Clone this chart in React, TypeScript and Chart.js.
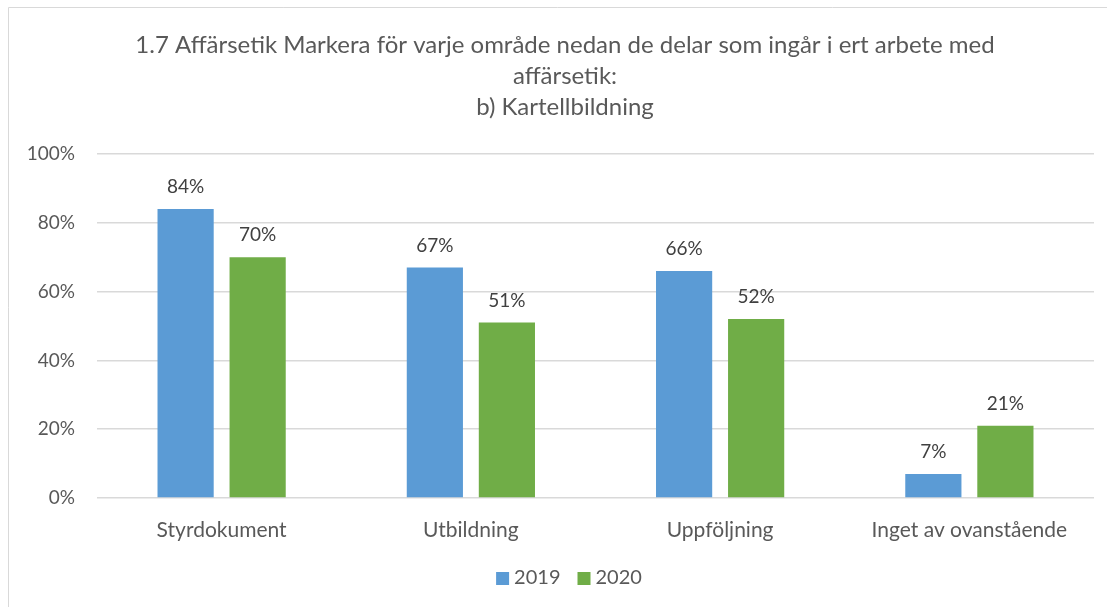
import React, { useEffect, useRef } from "react";
import { Chart, registerables } from "chart.js";

Chart.register(...registerables);

const categories = ["Styrdokument", "Utbildning", "Uppföljning", "Inget av ovanstående"];
const values2019 = [84, 67, 66, 7];
const values2020 = [70, 51, 52, 21];
const seriesLabels = ["2019", "2020"];
const seriesColors = ["#5B9BD5", "#70AD47"];
const yTicks = [0, 20, 40, 60, 80, 100];
const titleLines = [
  "1.7 Affärsetik Markera för varje område nedan de delar som ingår i ert arbete med",
  "affärsetik:",
  "b) Kartellbildning",
];

const FONT = "Lato, 'Open Sans', sans-serif";
const TEXT = "#595959";

const frameAndTitlePlugin = {
  id: "frameAndTitle",
  beforeDraw(chart: any) {
    const ctx = chart.ctx;
    ctx.save();
    ctx.strokeStyle = "#D9D9D9";
    ctx.lineWidth = 1;
    ctx.beginPath();
    ctx.moveTo(8.5, chart.height);
    ctx.lineTo(8.5, 7.5);
    ctx.lineTo(chart.width, 7.5);
    ctx.stroke();
    // title
    ctx.font = `24px ${FONT}`;
    ctx.fillStyle = TEXT;
    ctx.textAlign = "center";
    ctx.textBaseline = "middle";
    const ys = [45, 76, 107];
    titleLines.forEach((line, i) => ctx.fillText(line, 565, ys[i]));
    // legend
    ctx.font = `20px ${FONT}`;
    const box = 13;
    const gap = 5;
    const spacing = 17;
    const widths = seriesLabels.map((l) => box + gap + ctx.measureText(l).width);
    const total = widths.reduce((a, b) => a + b, 0) + spacing * (widths.length - 1);
    let x = 569 - total / 2;
    const cy = 578;
    ctx.textAlign = "left";
    seriesLabels.forEach((l, i) => {
      ctx.fillStyle = seriesColors[i];
      ctx.fillRect(x, cy - 6, box, box);
      ctx.fillStyle = TEXT;
      ctx.fillText(l, x + box + gap, cy);
      x += widths[i] + spacing;
    });
    ctx.restore();
  },
};

const labelPlugin = {
  id: "barLabels",
  afterDatasetsDraw(chart: any) {
    const ctx = chart.ctx;
    ctx.save();
    ctx.font = `19px ${FONT}`;
    ctx.fillStyle = "#404040";
    ctx.textAlign = "center";
    ctx.textBaseline = "middle";
    chart.data.datasets.forEach((ds: any, i: number) => {
      const meta = chart.getDatasetMeta(i);
      meta.data.forEach((el: any, j: number) => {
        ctx.fillText(`${ds.data[j]}%`, el.x, el.y - 22);
      });
    });
    ctx.restore();
  },
};

export default function App() {
  const ref = useRef<HTMLCanvasElement | null>(null);
  useEffect(() => {
    if (!ref.current) return;
    const chart = new Chart(ref.current, {
      type: "bar",
      data: {
        labels: categories,
        datasets: seriesLabels.map((label, i) => ({
          label,
          data: i === 0 ? values2019 : values2020,
          backgroundColor: seriesColors[i],
          barPercentage: 0.78,
          categoryPercentage: 0.578,
        })),
      },
      options: {
        animation: false,
        responsive: false,
        maintainAspectRatio: false,
        layout: { padding: { left: 8, right: 13, top: 154, bottom: 48 } },
        plugins: {
          title: { display: false },
          legend: { display: false },
          tooltip: { enabled: false },
        },
        scales: {
          x: {
            grid: { display: false },
            border: { display: false },
            ticks: { color: TEXT, font: { family: FONT, size: 21 }, padding: 12 },
            afterFit(scale: any) {
              scale.height = 61;
            },
          },
          y: {
            min: 0,
            max: 100,
            afterBuildTicks(scale: any) {
              scale.ticks = yTicks.map((v) => ({ value: v }));
            },
            grid: { color: "#D9D9D9", lineWidth: 1.5, drawTicks: false },
            border: { display: false },
            ticks: {
              color: TEXT,
              font: { family: FONT, size: 19 },
              padding: 22,
              callback: (v: any) => `${v}%`,
            },
            afterFit(scale: any) {
              scale.width = 89;
            },
          },
        },
      },
      plugins: [frameAndTitlePlugin, labelPlugin],
    });
    return () => chart.destroy();
  }, []);
  return (
    <div style={{ position: "fixed", left: 0, top: 0, width: 1107, height: 607, background: "#fff" }}>
      <canvas ref={ref} width={1107} height={607} style={{ width: 1107, height: 607 }} />
    </div>
  );
}
